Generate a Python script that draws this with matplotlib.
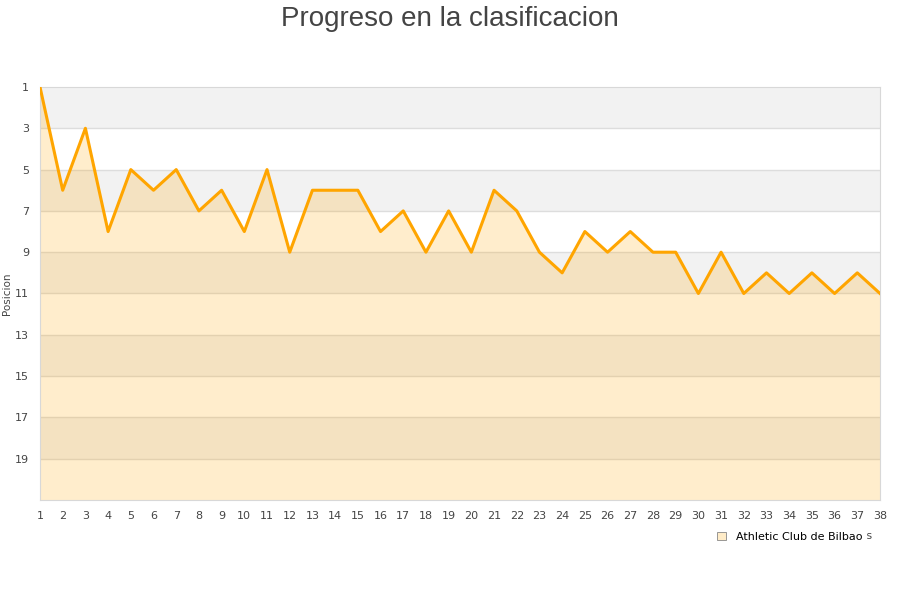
import numpy as np
import matplotlib.pyplot as plt

jornadas = list(range(1, 39))
posiciones = [1, 6, 3, 8, 5, 6, 5, 7, 6, 8,
              5, 9, 6, 6, 6, 8, 7, 9, 7, 9,
              6, 7, 9, 10, 8, 9, 8, 9, 9, 11,
              9, 11, 10, 11, 10, 11, 10, 11]
equipo = "Athletic Club de Bilbao"
y_ticks = [1, 3, 5, 7, 9, 11, 13, 15, 17, 19]

fig = plt.figure(figsize=(9, 6), dpi=100)
ax = fig.add_axes([40 / 900, 100 / 600, 840 / 900, 413 / 600])

# bandas alternas
for y0 in range(1, 21, 4):
    ax.axhspan(y0, y0 + 2, color='#f2f2f2', lw=0, zorder=0)
for y in y_ticks[1:]:
    ax.axhline(y, color='#dddddd', lw=1, zorder=1)

ax.fill_between(jornadas, posiciones, 21, color='#ffa500', alpha=0.2, lw=0, zorder=2)
ax.plot(jornadas, posiciones, color='#ffa500', lw=2.2, zorder=3)

ax.set_xlim(1, 38)
ax.set_ylim(21, 1)
ax.set_xticks(jornadas)
ax.set_yticks(y_ticks)
ax.tick_params(length=0, labelsize=8, labelcolor='#444444', pad=8)
for s in ax.spines.values():
    s.set_color('#d8d8d8')

ax.set_ylabel('Posicion', fontsize=7.5, color='#444444')
ax.yaxis.set_label_coords(-0.033, 0.5)
# la etiqueta queda casi tapada por la leyenda, como en el original
ax.set_xlabel('Jornadas', fontsize=8, color='#444444')
ax.xaxis.set_label_coords(0.963, -0.074)

fig.suptitle('Progreso en la clasificacion', fontsize=20, color='#444444',
             family='Liberation Sans', y=0.99)

leg = ax.legend([plt.Rectangle((0, 0), 1, 1, fc='#ffecc8', ec='#888888', lw=0.6)], [equipo],
                loc='upper right', bbox_to_anchor=(0.99, -0.055), fontsize=8,
                frameon=True, facecolor='white', edgecolor='white', framealpha=1,
                handlelength=0.8, handleheight=0.8, handletextpad=0.9, borderpad=0.3)
leg.set_zorder(10)

plt.savefig('out.png')
